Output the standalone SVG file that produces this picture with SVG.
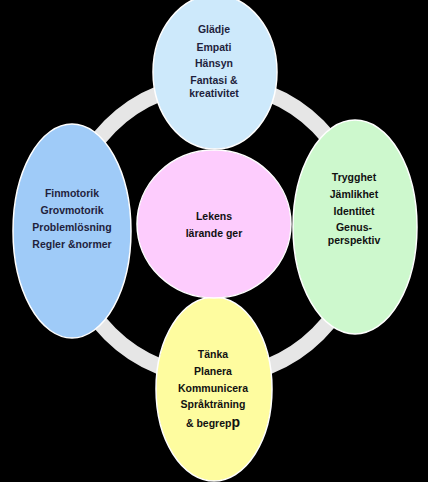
<svg xmlns="http://www.w3.org/2000/svg" width="428" height="482" viewBox="0 0 428 482">
<style>
.n{stroke:#ffffff;stroke-width:1.5}
text{font-family:"Liberation Sans",Arial,sans-serif;font-weight:bold;font-size:10.5px;text-anchor:middle}
.d{fill:#1f1f3d}
.k{fill:#111111}
</style>
<rect x="0" y="0" width="428" height="482" fill="#000000"/>
<g id="connectors">
<circle cx="214" cy="230" r="147" fill="none" stroke="#e6e6e6" stroke-width="16"/>
</g>
<g id="top">
<ellipse class="n" cx="215" cy="72" rx="62" ry="77" fill="#cde9fb"/>
<text class="d" x="214" y="33">Glädje</text>
<text class="d" x="214" y="51">Empati</text>
<text class="d" x="214" y="67">Hänsyn</text>
<text class="d" x="214" y="84">Fantasi &amp;</text>
<text class="d" x="214" y="97">kreativitet</text>
</g>
<g id="right">
<ellipse class="n" cx="355" cy="227" rx="62" ry="107" fill="#cdf8cd"/>
<text class="k" x="354" y="181">Trygghet</text>
<text class="k" x="354" y="198">Jämlikhet</text>
<text class="k" x="354" y="215">Identitet</text>
<text class="k" x="354" y="231">Genus-</text>
<text class="k" x="354" y="244">perspektiv</text>
</g>
<g id="bottom">
<ellipse class="n" cx="214" cy="389" rx="58" ry="92" fill="#fefc9f"/>
<text class="k" x="213" y="358">Tänka</text>
<text class="k" x="213" y="375">Planera</text>
<text class="k" x="213" y="392">Kommunicera</text>
<text class="k" x="213" y="408">Språkträning</text>
<text class="k" x="213" y="427">&amp; begrep<tspan font-size="14px">p</tspan></text>
</g>
<g id="left">
<ellipse class="n" cx="72" cy="231" rx="59" ry="107" fill="#9fcbf8"/>
<text class="d" x="72" y="197">Finmotorik</text>
<text class="d" x="72" y="214">Grovmotorik</text>
<text class="d" x="72" y="231">Problemlösning</text>
<text class="d" x="72" y="248">Regler &amp;normer</text>
</g>
<g id="center">
<ellipse class="n" cx="214" cy="224" rx="77" ry="74" fill="#fdccfd"/>
<text class="k" x="214" y="220">Lekens</text>
<text class="k" x="214" y="237">lärande ger</text>
</g>
</svg>
